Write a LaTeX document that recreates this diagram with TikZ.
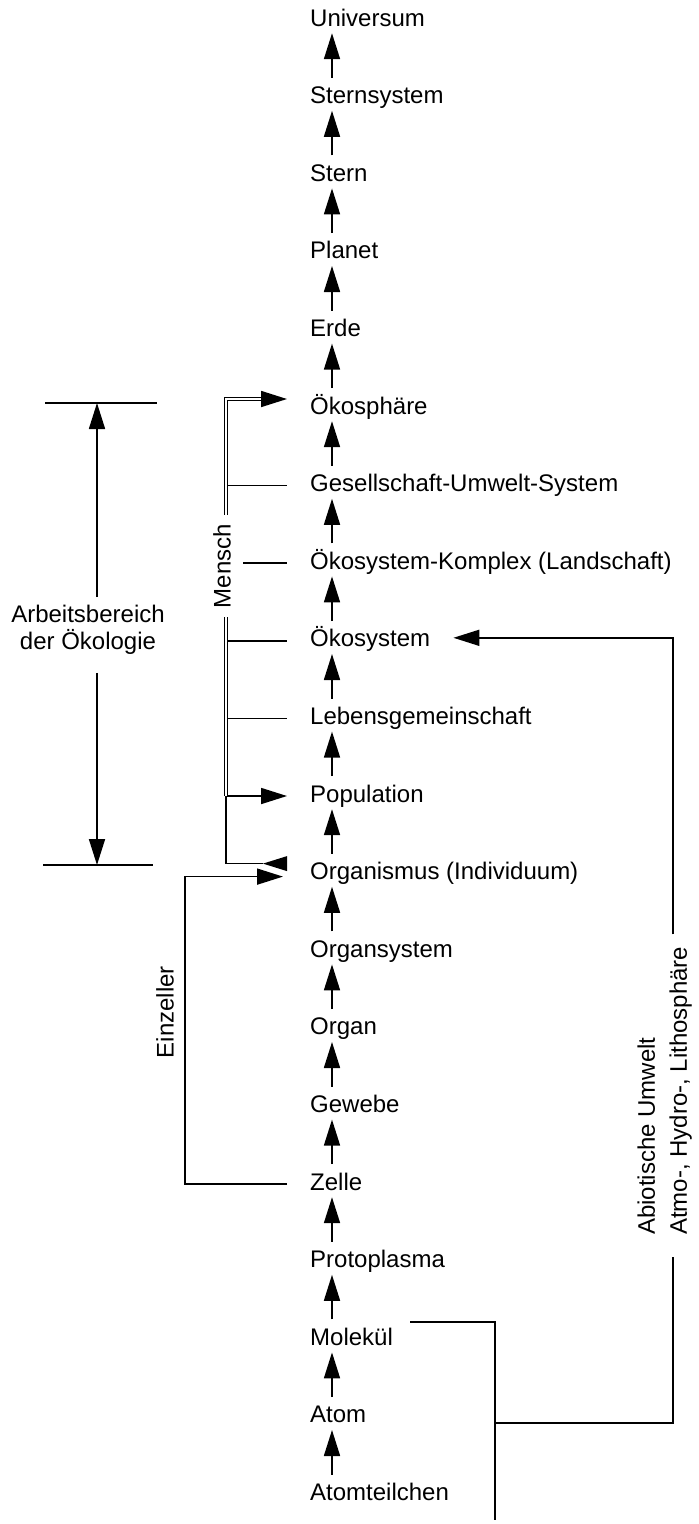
\documentclass[tikz,border=0pt]{standalone}
\usepackage{fontspec}
\setmainfont{Liberation Sans}
\usetikzlibrary{arrows.meta}
\begin{document}
\begin{tikzpicture}[x=1pt,y=-1pt,
  every node/.style={font=\fontsize{24}{30}\selectfont, text=black},
  lab/.style={anchor=base west, inner xsep=0pt, inner ysep=2pt, text height=17pt, text depth=5pt},
  txt/.style={inner sep=0pt},
  ln/.style={line width=1.7pt},
  arr/.style={ln, -{Triangle[length=26pt,width=16pt]}},
  uparr/.style={arr, shorten <=6.6pt},
  dbl/.style={double, double distance=2.2pt, line width=1.2pt}]
\useasboundingbox (0,0) rectangle (699,1524);
\coordinate (ax) at (332,0);
\coordinate (mx) at (226,0);
\coordinate (ezx) at (185,0);
\coordinate (abx) at (97,0);
\coordinate (rx) at (673,0);
\coordinate (bx) at (495,0);
% chain of levels
\foreach \t [count=\i from 0] in {Universum,Sternsystem,Stern,Planet,Erde,Ökosphäre,Gesellschaft-Umwelt-System,Ökosystem-Komplex (Landschaft),Ökosystem,Lebensgemeinschaft,Population,Organismus (Individuum),Organsystem,Organ,Gewebe,Zelle,Protoplasma,Molekül,Atom,Atomteilchen}
  \node[lab] (n\i) at (310,{26+77.6*\i}) {\t};
\foreach \i [remember=\i as \j (initially 0)] in {1,...,19}
  \draw[uparr] (n\i.north -| ax) -- (n\j.south -| ax);
% Arbeitsbereich der Oekologie
\node[txt, align=center, font=\fontsize{24}{27}\selectfont] (ab) at (88,630) {Arbeitsbereich\\der Ökologie};
\coordinate (abt) at (97,403);
\coordinate (abb) at (97,865);
\coordinate (abtl) at (45,403);
\coordinate (abtr) at (157,403);
\coordinate (abbl) at (43,865);
\coordinate (abbr) at (153,865);
\draw[ln] (abtl) -- (abtr);
\draw[ln] (abbl) -- (abbr);
\draw[arr, shorten <=8pt] (ab.north -| abx) -- (abt);
\draw[arr, shorten <=18pt] (ab.south -| abx) -- (abb);
% Mensch
\node[txt, rotate=90] (mensch) at (222,566) {Mensch};
\path (n5.west) ++(0,-9) coordinate (o5);
\draw[ln] (mx |- n6.west) -- ([xshift=-23pt]n6.west);
\draw[ln] ([xshift=-67pt]n7.west) -- ([xshift=-23pt]n7.west);
\draw[ln] (mx |- n8.west) -- ([xshift=-23pt]n8.west);
\draw[ln] (mx |- n9.west) -- ([xshift=-23pt]n9.west);
\draw[arr] (mx |- n10.west) -- ([xshift=-23pt]n10.west);
\draw[arr] ([xshift=-50pt]o5) -- ([xshift=-23pt]o5);
\draw[dbl, shorten <=9pt] (mensch.east -| mx) -- (mx |- o5) -- ([xshift=-49pt]o5);
\draw[dbl, shorten <=9pt] (mensch.west -| mx) -- (mx |- n10.west);
\path (n11.west) ++(-47,-10) coordinate (o11);
\draw[ln] (mx |- n10.west) |- (o11);
\fill (o11) -- ++(24,-7.5) -- ++(0,15) -- cycle;
% Einzeller
\node[txt, rotate=90] (einz) at (165,1012) {Einzeller};
\path (n11.west) ++(-27,3) coordinate (e11);
\draw[arr] ([xshift=-23pt]n15.west) -| (ezx |- e11) -- (e11);
% Abiotische Umwelt
\node[txt, rotate=90, align=left, anchor=south west, font=\fontsize{24}{32}\selectfont] (abio) at (692,1235) {Abiotische Umwelt\\Atmo-, Hydro-, Lithosphäre};
\path (n8.east) ++(23,-3) coordinate (r8);
\draw[arr, shorten <=12pt] (abio.east -| rx) |- (r8);
\draw[ln, shorten <=22pt] (abio.west -| rx) |- (bx |- n18.base);
\path (n17.north east) ++(17,-4) coordinate (m17);
\path (n19.base -| bx) ++(0,20) coordinate (bbot);
\draw[ln] (m17) -| (bbot);
\end{tikzpicture}
\end{document}
